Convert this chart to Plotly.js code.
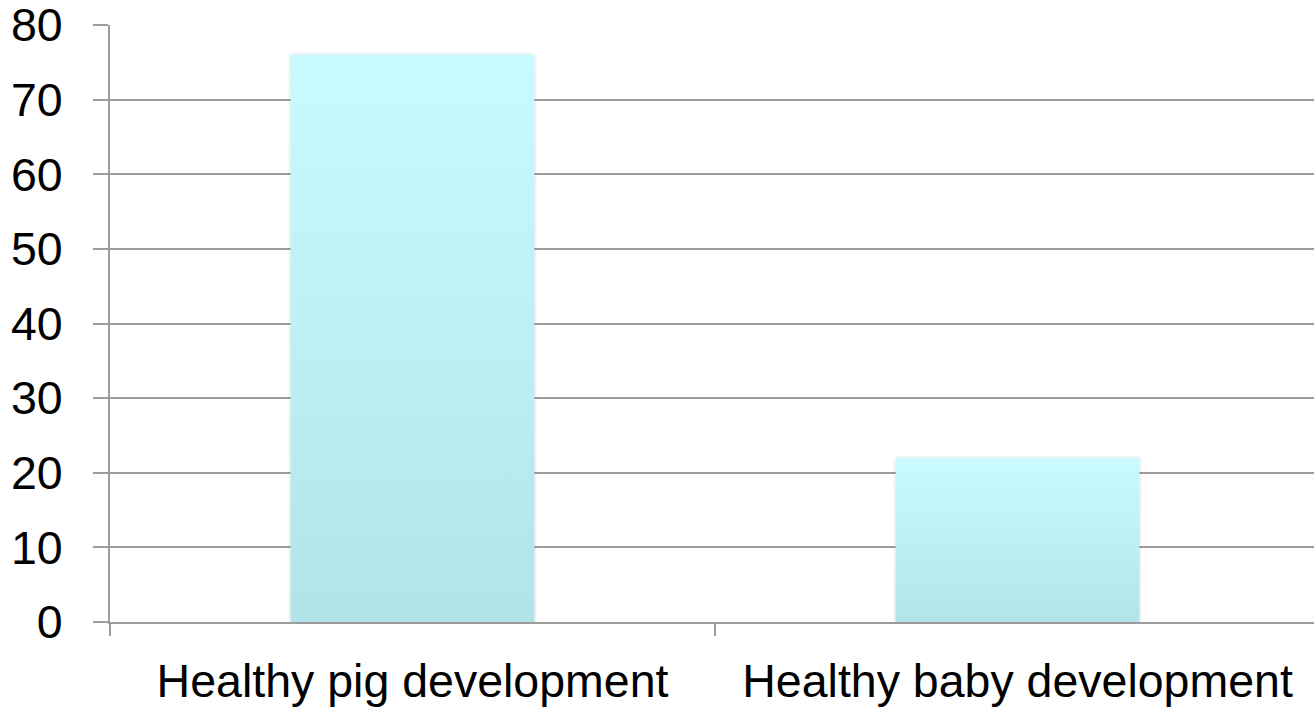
<!DOCTYPE html>
<html>
<head>
<meta charset="utf-8">
<script src="https://cdn.plot.ly/plotly-3.0.1.min.js"></script>
<style>
  html, body { margin: 0; padding: 0; background: #ffffff; }
  #chart { width: 1314px; height: 708px; }
</style>
</head>
<body>
<div id="chart"></div>
<svg width="0" height="0" style="position:absolute">
  <defs>
    <linearGradient id="barFill" x1="0" y1="0" x2="0" y2="1">
      <stop offset="0" stop-color="#c9fbfe"/>
      <stop offset="1" stop-color="#b1e3e8"/>
    </linearGradient>
    <filter id="barShadow" x="-10%" y="-10%" width="120%" height="120%">
      <feDropShadow dx="0" dy="0" stdDeviation="1.6" flood-color="#000000" flood-opacity="0.22"/>
    </filter>
  </defs>
</svg>
<script>
// Categories and values
const categories = ["Healthy pig development", "Healthy baby development"];
const values = [76, 22];
const yTicks = [0, 10, 20, 30, 40, 50, 60, 70, 80];

const gridGray = "#9c9c9c";
const fontFamily = "'Liberation Sans', Arial, Helvetica, sans-serif";
const fontSize = 46.5;

const trace = {
  type: "bar",
  x: categories,
  y: values,
  marker: { color: "#bdeff3", line: { width: 0 } },
  hoverinfo: "x+y"
};

const layout = {
  width: 1314,
  height: 708,
  margin: { l: 110, r: 0, t: 25, b: 86, pad: 0 },
  paper_bgcolor: "#ffffff",
  plot_bgcolor: "#ffffff",
  showlegend: false,
  bargap: 0.597,
  font: { family: fontFamily, size: fontSize, color: "#000000" },
  xaxis: {
    type: "category",
    range: [-0.5, 1.49],
    tickson: "boundaries",
    ticks: "outside",
    ticklen: 12,
    tickwidth: 1.5,
    tickcolor: gridGray,
    showline: true,
    linecolor: gridGray,
    linewidth: 2,
    showgrid: false,
    zeroline: false,
    ticklabelstandoff: 17,
    ticklabeloverflow: "allow",
    tickfont: { family: fontFamily, size: fontSize, color: "#000000" },
    fixedrange: true
  },
  yaxis: {
    range: [0, 80],
    tickmode: "array",
    tickvals: yTicks,
    ticktext: yTicks.map(String),
    ticks: "outside",
    ticklen: 15,
    tickwidth: 2,
    tickcolor: gridGray,
    showline: true,
    linecolor: gridGray,
    linewidth: 2,
    showgrid: true,
    gridcolor: gridGray,
    gridwidth: 2,
    zeroline: false,
    ticklabelstandoff: 21,
    ticklabeloverflow: "allow",
    tickfont: { family: fontFamily, size: fontSize, color: "#000000" },
    fixedrange: true
  }
};

// Shade each bar with a vertical gradient and a soft edge shadow
function styleBars(gd) {
  gd.querySelectorAll(".bars .point path").forEach(function (p) {
    p.style.fill = "url(#barFill)";
    p.style.filter = "url(#barShadow)";
  });
}

Plotly.newPlot("chart", [trace], layout, { displayModeBar: false, staticPlot: true })
  .then(styleBars);
</script>
</body>
</html>
